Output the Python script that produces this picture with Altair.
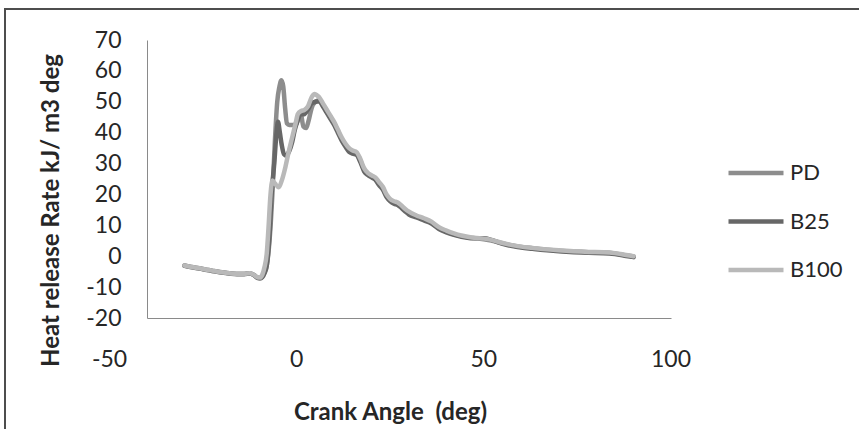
import altair as alt
import pandas as pd

# ---- data ----
pd_x = [-30, -28, -26, -24, -22, -20, -18, -16, -14, -12.5, -11.5, -10.5, -9.8, -9.2, -8.6, -8, -7.2, -6.5,
        -5.8, -5.2, -4.6, -4.1, -3.6, -3.1, -2.6, -2, -1, 0, 0.5, 1, 1.8, 2.5, 3.2, 4, 5, 6, 7, 8, 9, 10,
        11, 12, 13, 14, 15, 16, 17, 18, 19, 20, 21, 22, 23, 24, 25, 26, 27, 28, 29, 30, 32, 34, 36, 38,
        40, 42, 44, 46, 48, 50, 52, 54, 56, 58, 60, 63, 66, 70, 74, 78, 82, 85, 88, 90]
pd_y = [-3, -3.5, -3.9, -4.4, -4.8, -5.2, -5.5, -5.7, -5.7, -5.5, -6, -6.9, -7, -6.6, -5.2, -3, 6, 20,
        38, 50, 55, 57, 55, 48, 43, 42.5, 42.5, 43, 46, 46.5, 42, 41.5, 44, 48, 50, 50.5, 48.8, 47, 45, 43,
        40.5, 38, 36, 34.5, 33.8, 33.2, 31, 28, 26.7, 25.8, 25, 23.6, 22, 19.6, 18.2, 17.5, 17, 16, 15, 14,
        13, 11.9, 10.8, 9.1, 8, 7.1, 6.5, 6, 5.8, 5.5, 5.1, 4.5, 3.9, 3.4, 3, 2.6, 2.2, 1.8, 1.5, 1.3,
        1.2, 0.9, 0.3, -0.1]

b25_x = [-30, -28, -26, -24, -22, -20, -18, -16, -14, -12.5, -11.5, -10.5, -9.8, -9.2, -8.6, -8, -7.3,
         -6.6, -6, -5.4, -5, -4.5, -4, -3.4, -2.8, -2, -1.2, -0.5, 0.3, 1, 2, 3, 4, 5, 6, 7, 8, 9, 10,
         11, 12, 13, 14, 15, 16, 17, 18, 19, 20, 21, 22, 23, 24, 25, 26, 27, 28, 29, 30, 32, 34, 36, 38,
         40, 42, 44, 46, 48, 50, 52, 54, 56, 58, 60, 63, 66, 70, 74, 78, 82, 85, 88, 90]
b25_y = [-3.1, -3.6, -4, -4.5, -4.9, -5.3, -5.6, -5.8, -5.8, -5.6, -6.1, -7, -7.2, -6.8, -5.5, -3, 6,
         22, 30, 40, 43.5, 40, 36, 33, 32.5, 34, 37, 41, 44, 46, 46, 47.5, 49.5, 50, 50.2, 48.5, 46.5,
         44.5, 42.5, 40, 37.5, 35.5, 33.8, 33.2, 32.8, 30.5, 27.5, 26.3, 25.5, 24.8, 23, 21.6, 19.2, 17.8,
         17, 16.6, 15.6, 14.5, 13.5, 12.6, 11.6, 10.6, 8.8, 7.7, 6.9, 6.3, 5.9, 5.8, 5.8, 5.3, 4.4, 3.7,
         3.2, 2.8, 2.4, 2, 1.6, 1.3, 1.1, 1.0, 0.7, 0.1, -0.3]

b100_x = [-30, -28, -26, -24, -22, -20, -18, -16, -14, -12.5, -11.5, -10.5, -9.8, -9.2, -8.6, -8, -7.6,
          -7, -6.5, -5.8, -4.8, -4, -3, -2.2, -1.2, -0.3, 0.3, 1.2, 2, 3, 4, 4.8, 5.5, 6, 7, 8, 9, 10,
          11, 12, 13, 14, 15, 16, 17, 18, 19, 20, 21, 22, 23, 24, 25, 26, 27, 28, 29, 30, 32, 34, 36, 38,
          40, 42, 44, 46, 48, 50, 52, 54, 56, 58, 60, 63, 66, 70, 74, 78, 82, 85, 88, 90]
b100_y = [-3, -3.5, -3.9, -4.4, -4.8, -5.2, -5.5, -5.7, -5.7, -5.5, -6, -6.8, -6.9, -6, -3.5, 1, 8,
          20, 24.5, 23.5, 22.3, 24.5, 29, 33.5, 38.5, 43, 46, 47, 47.3, 48.5, 51.5, 52.5, 52, 51.5, 49.5,
          47.5, 45.5, 43.5, 41, 38.5, 36.5, 35, 34.2, 33.7, 31.5, 28.5, 27, 26.2, 25.5, 24, 22.5, 20,
          18.5, 17.8, 17.4, 16.4, 15.3, 14.4, 13.2, 12.3, 11.2, 9.4, 8.3, 7.4, 6.7, 6.2, 5.9, 5.7, 5.3,
          4.6, 4.0, 3.5, 3.1, 2.7, 2.3, 1.9, 1.6, 1.4, 1.3, 1.0, 0.4, 0]

series_names = ["PD", "B25", "B100"]
series_colors = ["#8d8d8d", "#676767", "#b9b9b9"]
x_ticks = [-50, 0, 50, 100]
x_tick_labels = ["-50", "0", "50", "100"]
y_ticks = [-20, -10, 0, 10, 20, 30, 40, 50, 60, 70]

frames = []
for name, xs, ys in [("PD", pd_x, pd_y), ("B25", b25_x, b25_y), ("B100", b100_x, b100_y)]:
    frames.append(pd.DataFrame({"angle": xs, "hrr": ys, "fuel": name}))
df = pd.concat(frames, ignore_index=True)
tick_df = pd.DataFrame({"angle": x_ticks, "label": x_tick_labels})

FONT = "Lato"
TXT = "#262626"

x_enc = alt.X("angle:Q",
              scale=alt.Scale(domain=[-40, 100], nice=False, zero=False),
              axis=alt.Axis(values=x_ticks, labels=False, title="Crank Angle\u00a0 (deg)", grid=False,
                            ticks=False, domainColor="#8a8a8a", domainWidth=1,
                            titleFont=FONT, titleFontSize=24, titleFontWeight="bold", titleColor=TXT,
                            titleX=243, titleY=94, titleBaseline="middle", titleAnchor="middle"))
y_enc = alt.Y("hrr:Q",
              scale=alt.Scale(domain=[-20, 70], nice=False, zero=False),
              axis=alt.Axis(values=y_ticks, title="Heat release Rate kJ/ m3 deg", grid=False, ticks=False,
                            domainColor="#8a8a8a", domainWidth=1, labelExpr="'' + datum.value",
                            labelPadding=26, labelFontSize=23, labelFont=FONT, labelColor=TXT,
                            titleFont=FONT, titleFontSize=24, titleFontWeight="bold", titleColor=TXT,
                            titleX=-96, titleY=170, titleBaseline="middle", titleAnchor="middle"))
color_enc = alt.Color("fuel:N",
                      scale=alt.Scale(domain=series_names, range=series_colors),
                      legend=alt.Legend(title=None, orient="none", legendX=579, legendY=109,
                                        symbolType="stroke", symbolSize=3025, symbolStrokeWidth=4.5,
                                        labelFont=FONT, labelFontSize=22, labelColor=TXT,
                                        labelOffset=4, clipHeight=48, rowPadding=0.5, padding=0))

layers = []
for name in series_names:
    layers.append(
        alt.Chart(df).transform_filter(alt.datum.fuel == name)
        .mark_line(strokeWidth=4.5, interpolate="monotone", strokeCap="round", strokeJoin="round")
        .encode(x=x_enc, y=y_enc, color=color_enc, order="angle:Q")
    )

x_labels = alt.Chart(tick_df).mark_text(font=FONT, fontSize=23, color=TXT, baseline="middle",
                                        align="center", clip=False).encode(
    x=x_enc, y=alt.value(42 + 278), text="label:N")

frame = alt.Chart(df).mark_rect(fill=None, stroke="#4d4d4d", strokeWidth=2, clip=False).encode(
    x=alt.value(-142), x2=alt.value(760), y=alt.value(-31), y2=alt.value(440))

chart = alt.layer(*layers, x_labels, frame).properties(
    width=524, height=278,
    autosize=alt.AutoSizeParams(type="none"),
    padding={"left": 147, "top": 40, "right": 188, "bottom": 111},
    background="white",
).configure_view(stroke=None)

chart.save("out.html", embed_options={"renderer": "svg", "actions": False})
